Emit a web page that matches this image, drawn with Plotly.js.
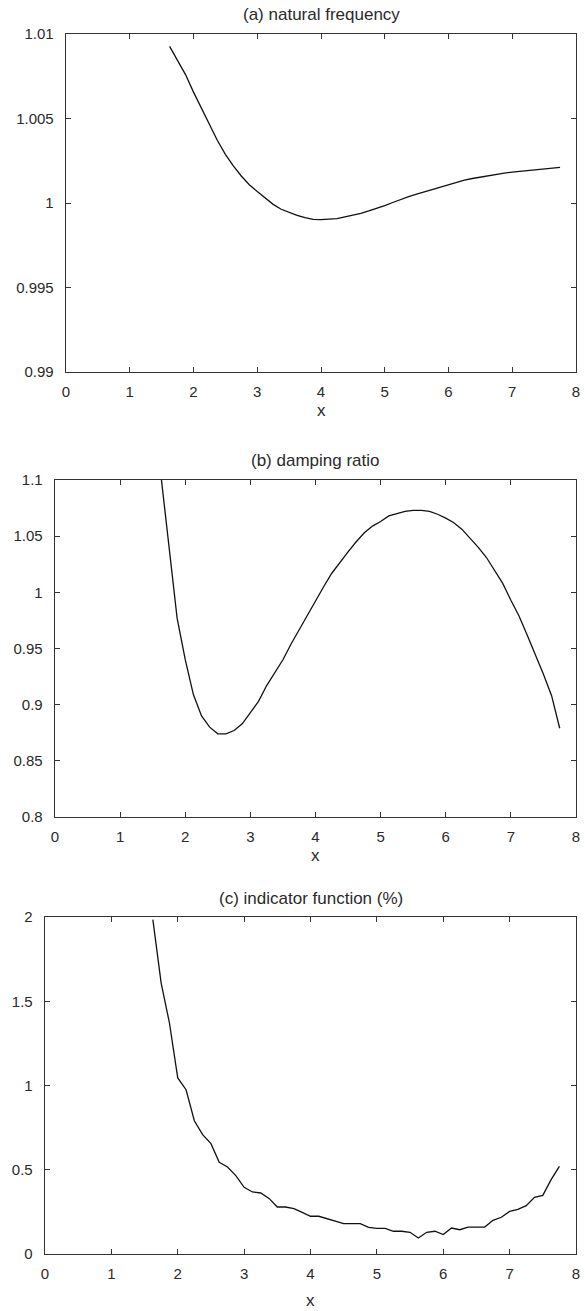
<!DOCTYPE html>
<html>
<head>
<meta charset="utf-8">
<script src="https://cdn.plot.ly/plotly-3.0.1.min.js"></script>
<style>html,body{margin:0;padding:0;background:#fff;}#chart{width:585px;height:1311px;}</style>
</head>
<body>
<div id="chart"></div>
<script>
// Sample positions (x)
const xs = [1.625,1.75,1.875,2.0,2.125,2.25,2.375,2.5,2.625,2.75,2.875,3.0,3.125,3.25,3.375,3.5,3.625,3.75,3.875,4.0,
            4.125,4.25,4.375,4.5,4.625,4.75,4.875,5.0,5.125,5.25,5.375,5.5,5.625,5.75,5.875,6.0,6.125,6.25,6.375,6.5,
            6.625,6.75,6.875,7.0,7.125,7.25,7.375,7.5,7.625,7.75];

// (a) natural frequency
const naturalFrequency = [1.00927,1.00845,1.0076,1.00656,1.00558,1.00462,1.0037,1.00288,1.0022,1.0016,
  1.00108,1.00068,1.0003,0.99992,0.99963,0.99943,0.99927,0.99914,0.99903,0.99902,
  0.99903,0.99908,0.99918,0.99928,0.99939,0.99953,0.99968,0.99985,1.00003,1.00021,
  1.00038,1.00052,1.00066,1.00082,1.00097,1.00109,1.00123,1.00135,1.00145,1.00154,
  1.00162,1.0017,1.00177,1.00183,1.00188,1.00192,1.00196,1.002,1.00205,1.00211];

// (b) damping ratio
const dampingRatio = [1.105,1.038,0.977,0.940,0.909,0.890,0.880,0.874,0.874,0.877,
  0.883,0.893,0.903,0.917,0.929,0.940,0.954,0.967,0.980,0.992,
  1.005,1.017,1.027,1.036,1.045,1.053,1.059,1.063,1.068,1.070,
  1.072,1.073,1.073,1.072,1.0695,1.066,1.062,1.056,1.048,1.040,
  1.031,1.020,1.008,0.993,0.979,0.962,0.945,0.927,0.908,0.879];

// (c) indicator function (%)
const indicatorFunction = [1.984,1.608,1.371,1.045,0.975,0.791,0.708,0.655,0.544,0.516,
  0.465,0.396,0.368,0.362,0.330,0.279,0.279,0.269,0.247,0.224,
  0.224,0.210,0.198,0.180,0.180,0.180,0.158,0.152,0.152,0.135,
  0.135,0.129,0.095,0.129,0.135,0.115,0.154,0.144,0.160,0.160,
  0.160,0.200,0.218,0.253,0.265,0.287,0.336,0.348,0.441,0.520];

const titles = ['(a) natural frequency', '(b) damping ratio', '(c) indicator function (%)'];
const xTickVals = [0,1,2,3,4,5,6,7,8];
const xTickText = ['0','1','2','3','4','5','6','7','8'];
const yTickValsA = [0.99,0.995,1,1.005,1.01];
const yTickTextA = ['0.99','0.995','1','1.005','1.01'];
const yTickValsB = [0.8,0.85,0.9,0.95,1,1.05,1.1];
const yTickTextB = ['0.8','0.85','0.9','0.95','1','1.05','1.1'];
const yTickValsC = [0,0.5,1,1.5,2];
const yTickTextC = ['0','0.5','1','1.5','2'];

const W = 585, H = 1311;
const boxes = [
  {l:66, r:576, t:34, b:372, titleY:15, xlabY:410},
  {l:55, r:576, t:480, b:817, titleY:461, xlabY:855},
  {l:45, r:576, t:917, b:1254, titleY:898, xlabY:1300}
];
const fontFam = 'Liberation Sans, Arial, Helvetica, sans-serif';
const axColor = '#333333';
const txtColor = '#2a2a2a';

const ys = [naturalFrequency, dampingRatio, indicatorFunction];
const traces = ys.map((y, i) => ({
  x: xs, y: y, type: 'scatter', mode: 'lines',
  line: {color: '#111111', width: 1.3},
  xaxis: i === 0 ? 'x' : 'x' + (i + 1),
  yaxis: i === 0 ? 'y' : 'y' + (i + 1),
  showlegend: false, hoverinfo: 'skip'
}));

const yRanges = [[0.99, 1.01], [0.8, 1.1], [0, 2]];
const yTV = [yTickValsA, yTickValsB, yTickValsC];
const yTT = [yTickTextA, yTickTextB, yTickTextC];

const layout = {
  width: W, height: H,
  margin: {l: 0, r: 0, t: 0, b: 0},
  paper_bgcolor: '#ffffff', plot_bgcolor: '#ffffff',
  font: {family: fontFam, color: txtColor, size: 15},
  showlegend: false,
  annotations: []
};

boxes.forEach((bx, i) => {
  const xn = i === 0 ? 'xaxis' : 'xaxis' + (i + 1);
  const yn = i === 0 ? 'yaxis' : 'yaxis' + (i + 1);
  const xid = i === 0 ? 'x' : 'x' + (i + 1);
  const yid = i === 0 ? 'y' : 'y' + (i + 1);
  layout[xn] = {
    domain: [bx.l / W, bx.r / W], anchor: yid,
    range: [0, 8], tickmode: 'array', tickvals: xTickVals, ticktext: xTickText,
    ticks: 'inside', ticklen: 5, tickwidth: 1, tickcolor: axColor,
    showline: true, linecolor: axColor, linewidth: 1.3, mirror: 'allticks',
    showgrid: false, zeroline: false,
    tickfont: {family: fontFam, size: 15, color: txtColor},
    ticklabelstandoff: 6
  };
  layout[yn] = {
    domain: [1 - bx.b / H, 1 - bx.t / H], anchor: xid,
    range: yRanges[i], tickmode: 'array', tickvals: yTV[i], ticktext: yTT[i],
    ticks: 'inside', ticklen: 5, tickwidth: 1, tickcolor: axColor,
    showline: true, linecolor: axColor, linewidth: 1.3, mirror: 'allticks',
    showgrid: false, zeroline: false,
    tickfont: {family: fontFam, size: 15, color: txtColor},
    ticklabelstandoff: 8
  };
  layout.annotations.push({
    text: titles[i], xref: 'paper', yref: 'paper',
    x: ((bx.l + bx.r) / 2) / W, y: 1 - bx.titleY / H,
    xanchor: 'center', yanchor: 'middle', showarrow: false,
    font: {family: fontFam, size: 17, color: txtColor}
  });
  layout.annotations.push({
    text: 'x', xref: 'paper', yref: 'paper',
    x: ((bx.l + bx.r) / 2) / W, y: 1 - bx.xlabY / H,
    xanchor: 'center', yanchor: 'middle', showarrow: false,
    font: {family: fontFam, size: 17, color: txtColor}
  });
});

Plotly.newPlot('chart', traces, layout, {staticPlot: true, displayModeBar: false});
</script>
</body>
</html>
